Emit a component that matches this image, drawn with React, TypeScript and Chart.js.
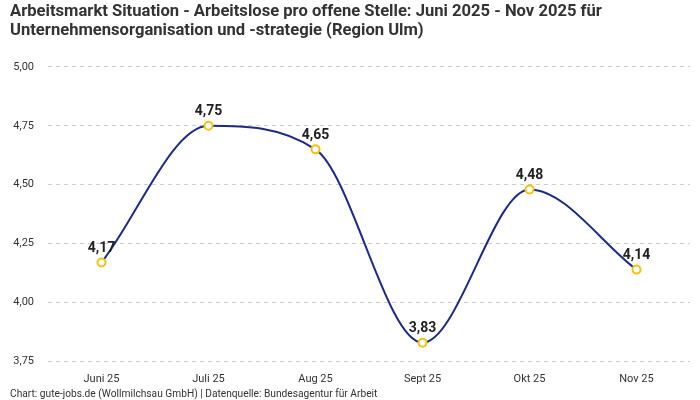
import React, { useEffect, useRef } from "react";
import { Chart, registerables } from "chart.js";

Chart.register(...registerables);

const categories = ["Juni 25", "Juli 25", "Aug 25", "Sept 25", "Okt 25", "Nov 25"];
const values = [4.17, 4.75, 4.65, 3.83, 4.48, 4.14];
const titleLines = [
  "Arbeitsmarkt Situation - Arbeitslose pro offene Stelle: Juni 2025 - Nov 2025 für",
  "Unternehmensorganisation und -strategie (Region Ulm)",
];
const footerText = "Chart: gute-jobs.de (Wollmilchsau GmbH) | Datenquelle: Bundesagentur für Arbeit";

const fmt = (v: number) => v.toFixed(2).replace(".", ",");

const FONT = "Roboto, 'DejaVu Sans', sans-serif";

const labelPlugin = {
  id: "valueLabels",
  afterDatasetsDraw(chart: any) {
    const { ctx } = chart;
    const meta = chart.getDatasetMeta(0);
    ctx.save();
    ctx.font = `bold 14px ${FONT}`;
    ctx.fillStyle = "#222";
    ctx.textAlign = "center";
    ctx.textBaseline = "bottom";
    meta.data.forEach((pt: any, i: number) => {
      ctx.fillText(fmt(values[i]), pt.x, pt.y - 7);
    });
    ctx.restore();
  },
};

export default function App() {
  const ref = useRef<HTMLCanvasElement>(null);
  useEffect(() => {
    document.body.style.margin = "0";
    const chart = new Chart(ref.current!, {
      type: "line",
      data: {
        labels: categories,
        datasets: [
          {
            data: values,
            borderColor: "#1c2a8c",
            borderWidth: 2,
            cubicInterpolationMode: "monotone",
            pointBackgroundColor: "#ffffff",
            pointBorderColor: "#f4c20d",
            pointBorderWidth: 2,
            pointRadius: 4,
            fill: false,
          },
        ],
      },
      options: {
        animation: false,
        responsive: false,
        layout: { padding: { left: 10, right: 10, top: 0, bottom: 0 } },
        plugins: {
          legend: { display: false },
          tooltip: { enabled: false },
          title: {
            display: true,
            text: titleLines,
            align: "start",
            color: "#333",
            font: { family: FONT, size: 16.6, weight: "bold", lineHeight: 1.17 },
            padding: { top: 2, bottom: 26 },
          },
          subtitle: {
            display: true,
            text: footerText,
            position: "bottom",
            align: "start",
            color: "#333",
            font: { family: FONT, size: 10.2, lineHeight: 1.1 },
            padding: { top: 0, bottom: 0 },
          },
        },
        scales: {
          x: {
            offset: true,
            grid: { display: false },
            border: { display: false },
            ticks: { color: "#333", font: { family: FONT, size: 11 } },
          },
          y: {
            min: 3.75,
            max: 5.0,
            grid: { color: "#cccccc", drawTicks: false },
            border: { display: false, dash: [4, 4] },
            afterFit: (scale: any) => {
              scale.width = 38;
            },
            ticks: {
              stepSize: 0.25,
              color: "#333",
              padding: 14,
              font: { family: FONT, size: 11 },
              callback: (v: any) => fmt(Number(v)),
            },
          } as any,
        },
      },
      plugins: [labelPlugin],
    });
    return () => chart.destroy();
  }, []);
  return (
    <div style={{ position: "absolute", left: 0, top: 0, width: 700, height: 400 }}>
      <canvas ref={ref} width={700} height={400} />
    </div>
  );
}
